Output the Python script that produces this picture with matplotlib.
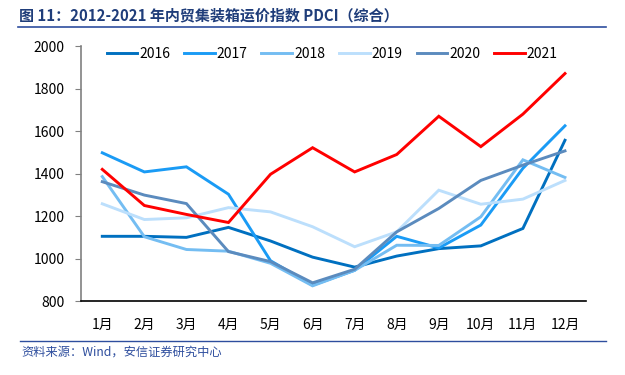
import matplotlib
matplotlib.use("Agg")
import matplotlib.pyplot as plt
from matplotlib.lines import Line2D

plt.rcParams["font.family"] = ["Noto Sans CJK SC", "DejaVu Sans"]

months = ["1月", "2月", "3月", "4月", "5月", "6月", "7月", "8月", "9月", "10月", "11月", "12月"]
years = ["2016", "2017", "2018", "2019", "2020", "2021"]

pdci_2016 = [1105, 1105, 1100, 1147, 1083, 1007, 960, 1012, 1047, 1060, 1142, 1557]
pdci_2017 = [1498, 1408, 1432, 1303, 990, 875, 945, 1105, 1050, 1158, 1425, 1625]
pdci_2018 = [1386, 1103, 1043, 1035, 978, 872, 945, 1063, 1062, 1197, 1465, 1382]
pdci_2019 = [1258, 1184, 1192, 1240, 1220, 1150, 1056, 1126, 1322, 1256, 1280, 1368]
pdci_2020 = [1362, 1299, 1259, 1033, 986, 886, 950, 1126, 1236, 1368, 1440, 1507]
pdci_2021 = [1420, 1250, 1208, 1170, 1397, 1522, 1408, 1490, 1670, 1527, 1680, 1871]

series = [pdci_2016, pdci_2017, pdci_2018, pdci_2019, pdci_2020, pdci_2021]
colors = ["#0070C0", "#1A9BF5", "#74BDF2", "#BCDFFC", "#5B8BBE", "#FF0000"]

fig = plt.figure(figsize=(6.25, 3.75), dpi=100)
ax = fig.add_axes([0.13, 0.197, 0.8076, 0.68])

x = list(range(len(months)))
for vals, c, lab in zip(series, colors, years):
    ax.plot(x, vals, color=c, lw=2.1, label=lab, solid_joinstyle="miter")

ax.set_xlim(-0.5, 11.5)
ax.set_ylim(800, 2000)
ax.set_yticks(range(800, 2001, 200))
ax.set_xticks(x)
ax.set_xticklabels(months)
ax.tick_params(axis="x", length=0, pad=12, labelsize=10)
ax.tick_params(axis="y", length=4, width=0.8, color="#808080", labelsize=10, pad=8)

for s in ("top", "right"):
    ax.spines[s].set_visible(False)
ax.spines["left"].set_color("#808080")
ax.spines["left"].set_linewidth(1.2)
ax.spines["bottom"].set_color("black")
ax.spines["bottom"].set_linewidth(1.2)

ax.legend(loc="upper center", bbox_to_anchor=(0.497, 1.045), ncol=6, frameon=False,
          fontsize=10, handlelength=2.2, columnspacing=1.0, handletextpad=0.15)

# header / footer
fig.text(0.03, 0.958, "图 11：2012-2021 年内贸集装箱运价指数 PDCI（综合）",
         fontsize=10.8, fontweight="bold", color="#1F3D7A", va="center")
fig.add_artist(Line2D([0.029, 0.97], [0.927, 0.927], color="#2E4E9E", lw=1.2))
fig.add_artist(Line2D([0.032, 0.97], [0.0915, 0.0915], color="#2E4E9E", lw=1.0))
fig.text(0.034, 0.062, "资料来源：Wind，安信证券研究中心", fontsize=8.8, style="italic",
         color="#2E4E9E", va="center")

fig.savefig("out.png", dpi=100, facecolor="white")
